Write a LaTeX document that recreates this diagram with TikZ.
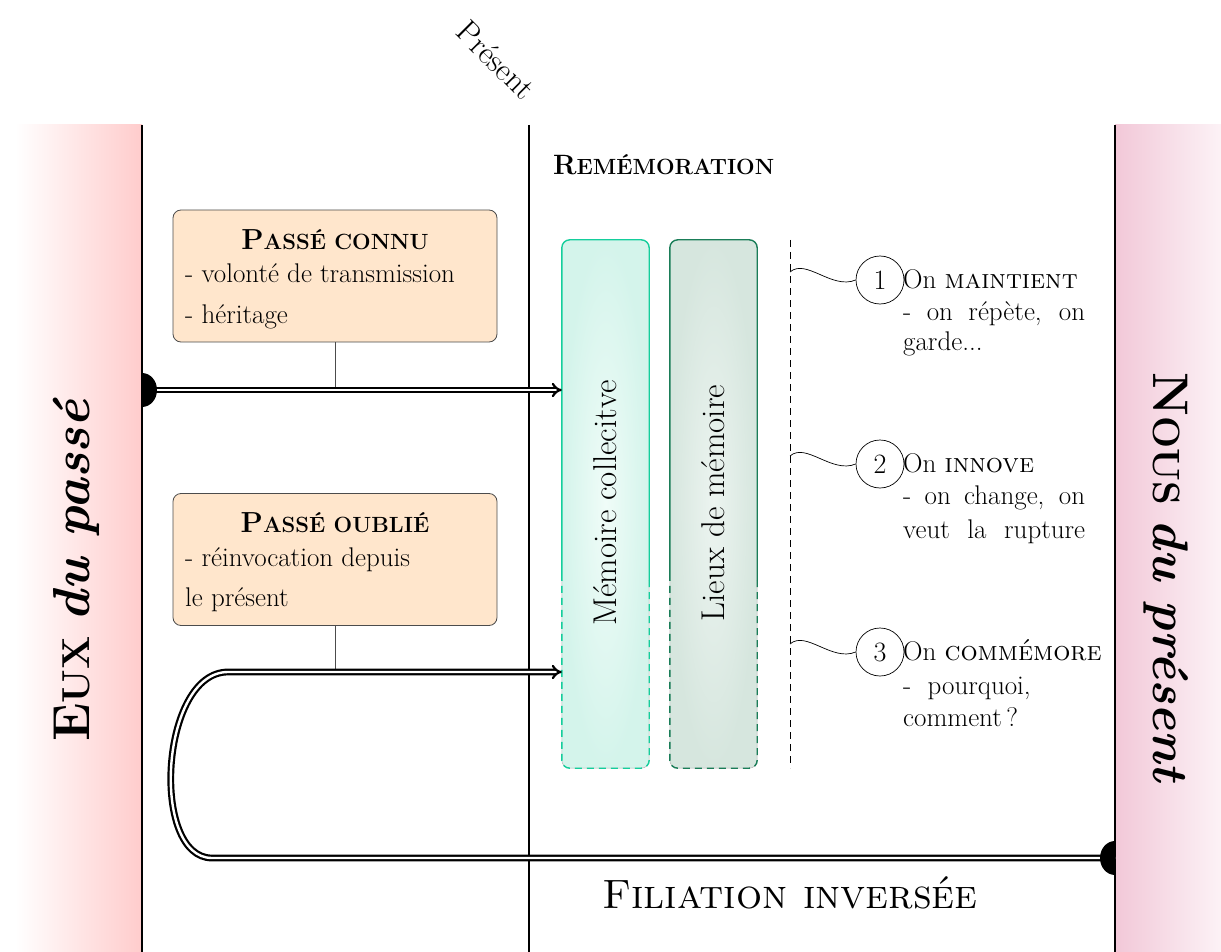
\documentclass[tikz,border=0pt]{standalone}
\usetikzlibrary{arrows.meta}
\definecolor{pinkL}{RGB}{255,204,204}
\definecolor{pinkR}{RGB}{242,200,216}
\definecolor{pinkRl}{RGB}{252,242,246}
\definecolor{peach}{RGB}{255,230,204}
\definecolor{mintB}{RGB}{20,206,156}
\definecolor{mintIn}{RGB}{240,252,248}
\definecolor{mintOut}{RGB}{212,244,235}
\definecolor{greenB}{RGB}{26,125,88}
\definecolor{greenIn}{RGB}{236,244,240}
\definecolor{greenOut}{RGB}{214,230,222}
\newcommand\fsz[1]{\fontsize{#1}{#1}\selectfont}
\begin{document}
\begin{tikzpicture}[x=1pt,y=-1pt,
  txt/.style={inner sep=0pt, font=\fsz{27}},
  pbox/.style={draw=black!70, line width=0.8pt, fill=peach, rounded corners=8pt,
     minimum width=324pt, minimum height=132pt, inner sep=0pt},
  colbox/.style={rounded corners=8pt, minimum width=87pt, minimum height=528pt, inner sep=0pt},
  dbl/.style={double, line width=2.2pt, double distance=2.4pt, -{Implies[scale=1.3]}},
  num/.style={circle, draw, line width=0.7pt, minimum size=48pt, inner sep=0pt, font=\fsz{28}},
  wave/.style={line width=0.7pt}
]
\useasboundingbox (0,0) rectangle (1221,952);
% bands
\shade[left color=white, right color=pinkL] (15,125) rectangle (142,952);
\shade[left color=pinkR, right color=pinkRl] (1115,125) rectangle (1221,952);
\draw[line width=1.2pt] (142,125) -- (142,952);
\draw[line width=1.2pt] (1115,125) -- (1115,952);
\draw[line width=2.2pt] (529,125) -- (529,952);

% labels
\node[txt, font=\fsz{32}, rotate=-45] (present) at (496,60) {Présent};
\node[txt, anchor=base west] (remem) at (553,175) {\textbf{\fsz{28}R\fsz{22}EMÉMORATION}};
\node[txt, rotate=90] (eux) at (76,570) {\textbf{\fsz{52}E\fsz{39}UX \textit{\fsz{52}du passé}}};
\node[txt, rotate=-90] (nous) at (1166,578) {\textbf{\fsz{50}N\fsz{38}OUS \textit{\fsz{50}du présent}}};
\node[txt, font=\fsz{41}] (filiation) at (790,893) {\textsc{Filiation inversée}};

% passé boxes
\node[pbox] (pc) at (335,276) {};
\node[txt, anchor=base] (pct) at (335,250) {\textbf{\fsz{29}P\fsz{22}ASSÉ CONNU}};
\node[txt, anchor=base west] (pc1) at (185,283) {- volonté de transmission};
\node[txt, anchor=base west] (pc2) at (185,323) {- héritage};

\node[pbox] (po) at (335,559.5) {};
\node[txt, anchor=base] (pot) at (335,532) {\textbf{\fsz{29}P\fsz{22}ASSÉ OUBLIÉ}};
\node[txt, anchor=base west] (po1) at (185,566) {- réinvocation depuis};
\node[txt, anchor=base west] (po2) at (185,606) {le présent};

% memory columns
\node[colbox, shade, inner color=mintIn, outer color=mintOut] (mc) at (605.5,504) {};
\node[colbox, shade, inner color=greenIn, outer color=greenOut] (ldm) at (713.5,504) {};
\draw[mintB, line width=1.4pt, rounded corners=8pt] (mc.west |- 0,580) -- (mc.north west) -- (mc.north east) -- (mc.east |- 0,580);
\draw[black!30, line width=0.5pt, rounded corners=8pt] (mc.east |- 0,580) -- (mc.south east) -- (mc.south west) -- (mc.west |- 0,580);
\draw[mintB, line width=1.4pt, dashed, dash pattern=on 7pt off 5pt, rounded corners=8pt] (mc.east |- 0,580) -- (mc.south east) -- (mc.south west) -- (mc.west |- 0,580);
\draw[greenB, line width=1.4pt, rounded corners=8pt] (ldm.west |- 0,580) -- (ldm.north west) -- (ldm.north east) -- (ldm.east |- 0,580);
\draw[black!30, line width=0.5pt, rounded corners=8pt] (ldm.east |- 0,580) -- (ldm.south east) -- (ldm.south west) -- (ldm.west |- 0,580);
\draw[greenB, line width=1.4pt, dashed, dash pattern=on 7pt off 5pt, rounded corners=8pt] (ldm.east |- 0,580) -- (ldm.south east) -- (ldm.south west) -- (ldm.west |- 0,580);
\node[txt, font=\fsz{33}, rotate=90] (mct) at (605,503) {Mémoire collecitve};
\node[txt, font=\fsz{33}, rotate=90] (ldmt) at (713,503) {Lieux de mémoire};

% arrows
\coordinate (dotL) at (142,390);
\coordinate (dotR) at (1115,858);
\draw[black!70, line width=0.7pt] (pc.south) -- (pc.south |- dotL);
\draw[black!70, line width=0.7pt] (po.south) -- (po.south |- 0,672);
\draw[dbl] (dotL) -- (dotL -| mc.west);
\draw[dbl] (dotR) -- (212,858) .. controls (150,858) and (160,672) .. (228,672) -- (mc.west |- 0,672);
\begin{scope}
  \clip (142,360) rectangle (175,420);
  \fill (dotL) ellipse [x radius=15pt, y radius=17pt];
\end{scope}
\begin{scope}
  \clip (1080,828) rectangle (1115,888);
  \fill (dotR) ellipse [x radius=15pt, y radius=17pt];
\end{scope}

% dashed timeline
\coordinate (dtop) at (790,240);
\coordinate (dbot) at (790,768);
\draw[line width=1pt, dash pattern=on 7pt off 5pt] (dtop) -- (dbot);

% items
\foreach \i/\cy/\word in {1/280/maintient, 2/464/innove, 3/652/commémore}{
  \node[num] (n\i) at (880,\cy) {\i};
  \coordinate (w\i) at (790,\cy-8);
  \draw[wave] (w\i) .. controls (806,\cy-22) and (832,\cy+10) .. (n\i.west);
  \node[txt, anchor=base west] (h\i) at (903,\cy+8) {On \textsc{\word}};
}
\node[txt, anchor=base west] (a1) at (903,320) {\makebox[182pt][s]{- on répète, on}};
\node[txt, anchor=base west] (b1) at (903,350) {garde...};
\node[txt, anchor=base west] (a2) at (903,504) {\makebox[182pt][s]{- on change, on}};
\node[txt, anchor=base west] (b2) at (903,538) {\makebox[182pt][s]{veut la rupture}};
\node[txt, anchor=base west] (a3) at (903,694) {-\ \ pourquoi,};
\node[txt, anchor=base west] (b3) at (903,726) {comment\,?};
\end{tikzpicture}
\end{document}
